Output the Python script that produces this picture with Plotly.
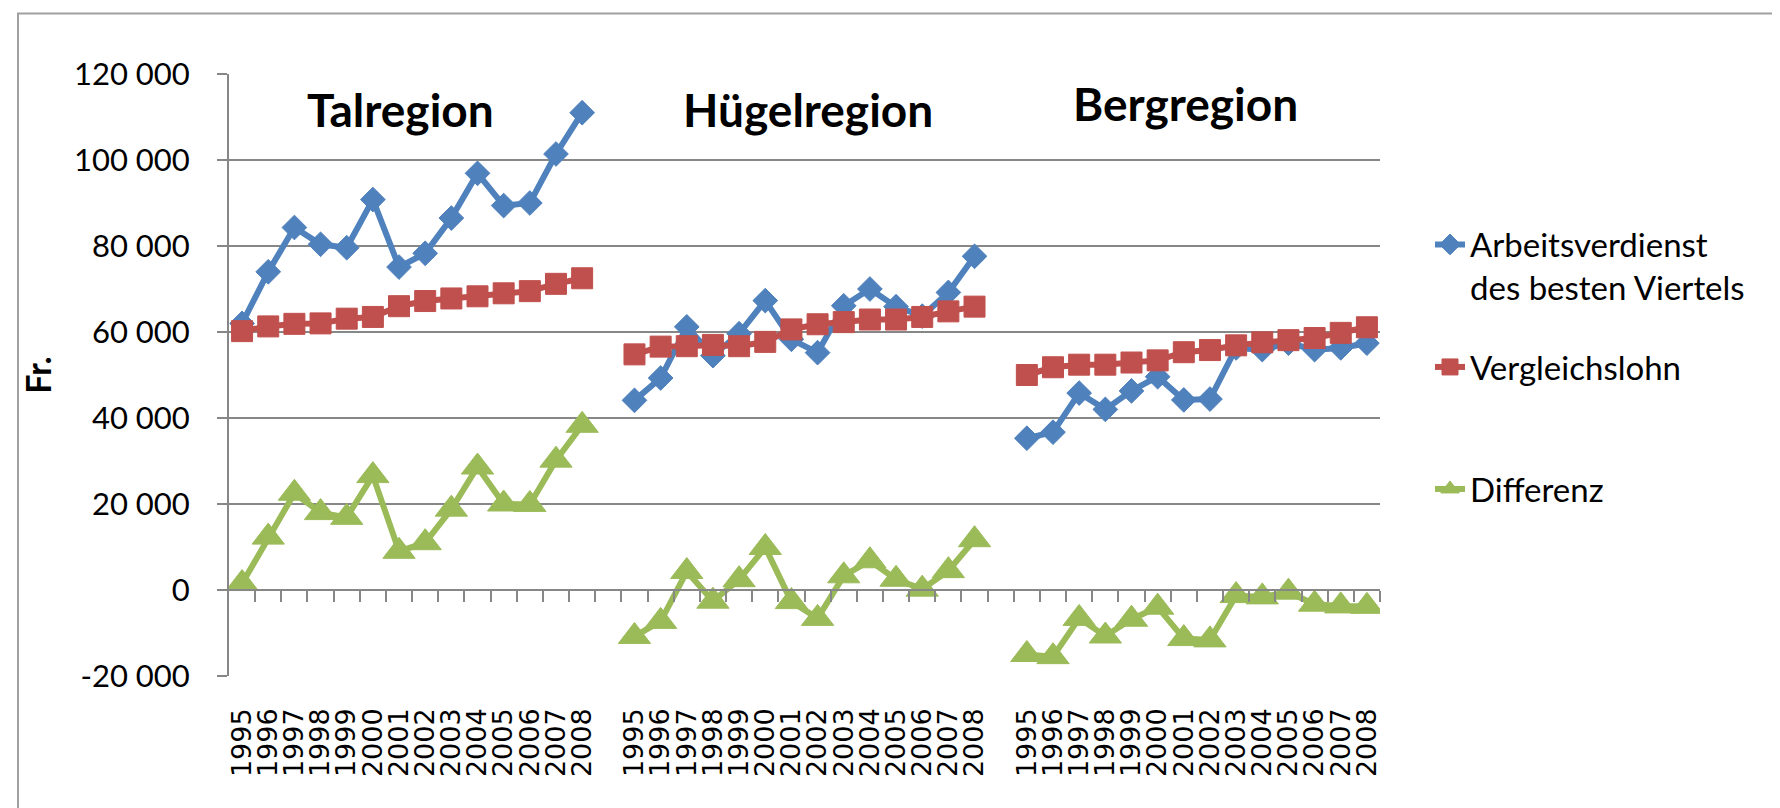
import plotly.graph_objects as go

# ---------------- data ----------------
YEARS = ["1995", "1996", "1997", "1998", "1999", "2000", "2001",
         "2002", "2003", "2004", "2005", "2006", "2007", "2008"]
REGIONS = ["Talregion", "Hügelregion", "Bergregion"]
SERIES_NAMES = ["Arbeitsverdienst<br>des besten Viertels", "Vergleichslohn", "Differenz"]

ARBEIT_TAL = [62000, 74000, 84300, 80400, 79600, 90800, 75100,
              78300, 86500, 96900, 89400, 90000, 101400, 111000]
ARBEIT_HUEGEL = [44100, 49300, 61200, 54500, 59600, 67300, 58300,
                 55200, 66100, 70000, 65900, 63700, 69200, 77600]
ARBEIT_BERG = [35300, 36700, 45800, 42000, 46300, 49600, 44200,
               44400, 56300, 55900, 57400, 55900, 56300, 57400]

VERGLEICH_TAL = [60200, 61300, 61900, 62000, 63100, 63500, 66000,
                 67200, 67800, 68300, 69000, 69500, 71200, 72500]
VERGLEICH_HUEGEL = [54800, 56600, 56700, 57000, 56700, 57700, 60600,
                    61800, 62300, 62900, 62900, 63500, 64800, 65900]
VERGLEICH_BERG = [50000, 51800, 52400, 52400, 52900, 53400, 55300,
                  55800, 56900, 57600, 58100, 58600, 59800, 61100]

DIFF_TAL = [1500, 12300, 22500, 18000, 16900, 26600, 9000,
            11000, 18800, 28600, 20000, 19900, 30200, 38300]
DIFF_HUEGEL = [-10800, -7300, 4300, -2600, 2400, 9900, -2700,
               -6600, 3300, 6800, 2500, 200, 4500, 11700]
DIFF_BERG = [-15000, -15500, -6600, -10700, -6800, -4000, -11300,
             -11600, -1300, -1600, -500, -3300, -3700, -3800]

Y_TICK_VALUES = [-20000, 0, 20000, 40000, 60000, 80000, 100000, 120000]
Y_TICK_LABELS = ["-20 000", "0", "20 000", "40 000", "60 000", "80 000", "100 000", "120 000"]

# ---------------- layout geometry ----------------
W, H = 1780, 808
ML, MR, MT, MB = 221, 408, 66, 140
PW, PH = W - ML - MR, H - MT - MB
YMIN, YMAX = -20000, 120000

N = len(YEARS)
GROUP_STRIDE = N + 1                      # one empty category between regions
N_CATS = len(REGIONS) * GROUP_STRIDE - 1  # 44 categories in total

GRID = "#878787"
BLUE, RED, GREEN = "#4F81BD", "#C0504D", "#9BBB59"
FONT = "Lato"


def px_x(p):
    return (p - ML) / PW


def px_y(p):
    return 1 - (p - MT) / PH


def build(groups):
    xs, ys = [], []
    for g, vals in enumerate(groups):
        if g:
            xs.append(None)
            ys.append(None)
        for i, v in enumerate(vals):
            xs.append(g * GROUP_STRIDE + i)
            ys.append(v)
    return xs, ys


fig = go.Figure()

series = [
    (SERIES_NAMES[0], [ARBEIT_TAL, ARBEIT_HUEGEL, ARBEIT_BERG], BLUE, "diamond", 19, "legend"),
    (SERIES_NAMES[1], [VERGLEICH_TAL, VERGLEICH_HUEGEL, VERGLEICH_BERG], RED, "square", 21, "legend2"),
    (SERIES_NAMES[2], [DIFF_TAL, DIFF_HUEGEL, DIFF_BERG], GREEN, "triangle-up", 28, "legend3"),
]
for name, groups, color, symbol, size, leg in series:
    xs, ys = build(groups)
    fig.add_trace(go.Scatter(
        x=xs, y=ys, name=name, mode="lines+markers",
        line=dict(color=color, width=6),
        marker=dict(symbol=symbol, size=size, color=color, line=dict(color=color, width=1)),
        connectgaps=False, legend=leg, hoverinfo="skip",
    ))

# helper (invisible) so that the category axis crossing at y = 0 is drawn
fig.add_trace(go.Scatter(x=[-0.5], y=[YMIN], xaxis="x2", yaxis="y", mode="markers",
                         marker=dict(opacity=0), showlegend=False, hoverinfo="skip"))

tick_pos = [g * GROUP_STRIDE + i for g in range(len(REGIONS)) for i in range(N)]
tick_txt = [YEARS[i] for g in range(len(REGIONS)) for i in range(N)]
boundaries = [k + 0.5 for k in range(N_CATS)]

legend_font = dict(family=FONT, size=33, color="black")
LEG_X = px_x(1422)

fig.update_layout(
    width=W, height=H,
    margin=dict(l=ML, r=MR, t=MT, b=MB, autoexpand=False),
    paper_bgcolor="white", plot_bgcolor="white",
    font=dict(family=FONT, color="black"),
    xaxis=dict(
        range=[-0.5, N_CATS - 0.5], tickmode="array", tickvals=tick_pos, ticktext=tick_txt,
        tickangle=-90, tickfont=dict(family="DejaVu Sans", size=27, color="black"),
        ticks="", showgrid=False, zeroline=False, showline=False,
        ticklabelstandoff=26,
    ),
    xaxis2=dict(
        overlaying="x", anchor="free", position=(0 - YMIN) / (YMAX - YMIN), side="bottom",
        range=[-0.5, N_CATS - 0.5], tickmode="array", tickvals=boundaries,
        ticks="outside", ticklen=11, tickwidth=2, tickcolor=GRID,
        showline=True, linecolor=GRID, linewidth=2,
        showticklabels=False, showgrid=False, zeroline=False,
    ),
    yaxis=dict(
        range=[YMIN, YMAX], tickmode="array", tickvals=Y_TICK_VALUES, ticktext=Y_TICK_LABELS,
        ticks="outside", ticklen=10, tickwidth=2, tickcolor=GRID,
        showline=True, linecolor=GRID, linewidth=2,
        showgrid=True, gridcolor=GRID, gridwidth=2, zeroline=False,
        tickfont=dict(family=FONT, size=31, color="black"),
        ticklabelstandoff=21,
        title=dict(text="<b>Fr.</b>", font=dict(family=FONT, size=34, color="black"), standoff=12),
    ),
    legend=dict(x=LEG_X, y=px_y(258), xanchor="left", yanchor="middle", valign="top",
                font=legend_font, bgcolor="rgba(0,0,0,0)"),
    legend2=dict(x=LEG_X, y=px_y(359), xanchor="left", yanchor="middle",
                 font=legend_font, bgcolor="rgba(0,0,0,0)"),
    legend3=dict(x=LEG_X, y=px_y(481), xanchor="left", yanchor="middle",
                 font=legend_font, bgcolor="rgba(0,0,0,0)"),
    showlegend=True,
)

# region titles
title_pos = [(6.05, px_y(101)), (21.65, px_y(101)), (36.05, px_y(95))]
for name, (tx, ty) in zip(REGIONS, title_pos):
    fig.add_annotation(x=tx, y=ty, xref="x", yref="paper", text="<b>%s</b>" % name,
                       showarrow=False, xanchor="center", yanchor="middle",
                       font=dict(family=FONT, size=46, color="black"))

# outer chart frame (only left and top edges are inside the picture)
fig.add_shape(type="rect", xref="paper", yref="paper",
              x0=px_x(10), x1=px_x(W + 20), y0=px_y(H + 20), y1=px_y(5.5),
              line=dict(color="#A0A0A0", width=2), fillcolor="rgba(0,0,0,0)", layer="below")

fig.write_html("out.html")
